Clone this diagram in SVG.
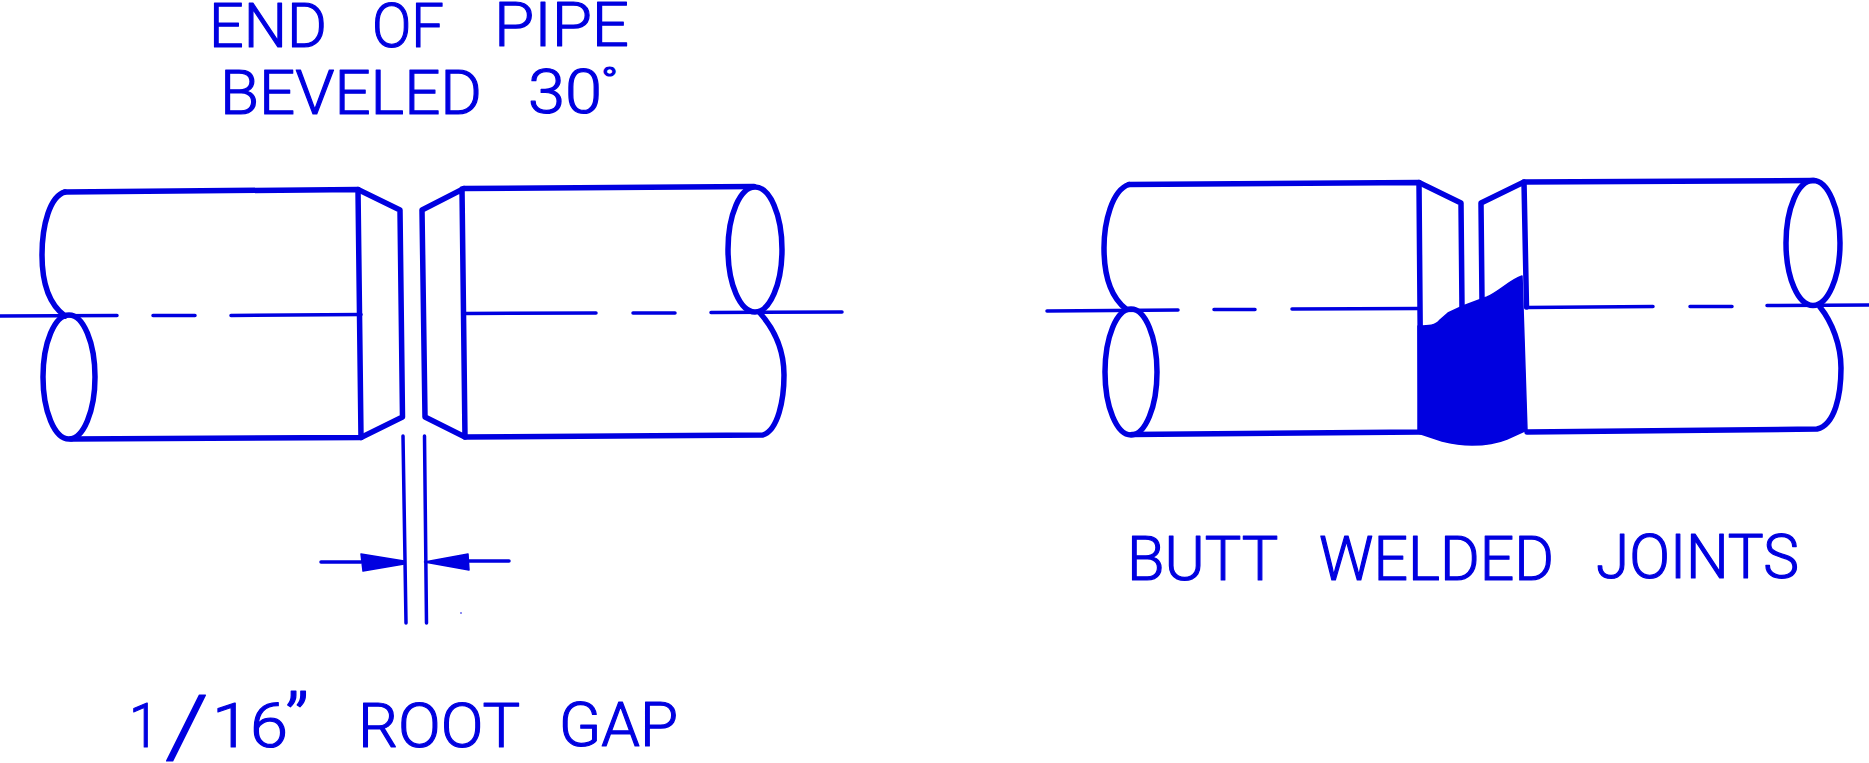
<svg xmlns="http://www.w3.org/2000/svg" width="1869" height="763" viewBox="0 0 1869 763">
<style>
.bg{fill:#fff}
.o{fill:none;stroke:#0000e0;stroke-width:5.500;stroke-linejoin:round;stroke-linecap:round}
.c{fill:none;stroke:#0000e0;stroke-width:3.500;stroke-linecap:round}
.f{fill:#0000e0;stroke:#0000e0;stroke-width:1.500;stroke-linejoin:round}
text{font-family:"Roboto","Liberation Sans",sans-serif;font-weight:300;font-size:62px;fill:#0000e0;stroke:#0000e0;stroke-width:1.200;stroke-linejoin:round}
</style>
<rect class="bg" width="1869" height="763"/>
<g id="left-pipe-a">
<path class="o" d="M65,192 C50,196 42,225 42,255 C42,285 50,305 65,316"/>
<ellipse class="o" cx="69" cy="377" rx="26" ry="62"/>
<path class="o" d="M65,192 L358,189.500 L361,437.500 L71,439"/>
<path class="o" d="M358,189.500 L400,210 L402.500,417 L361,437.500"/>
</g>
<g id="left-pipe-b">
<path class="o" d="M464,188.500 L754,186.500"/>
<ellipse class="o" cx="755" cy="249.500" rx="27" ry="62.500"/>
<path class="o" d="M760,313 C775,330 784,350 784,375 C784,400 778,430 763,435 L465,437"/>
<path class="o" d="M462,189 L465,437 L425,417 L422,210 L464,188.500"/>
</g>
<g id="right-pipe-a">
<path class="o" d="M1129,184.500 C1112,190 1104,222 1104,248 C1104,278 1112,298 1126,309"/>
<ellipse class="o" cx="1131" cy="372" rx="26" ry="63"/>
<path class="o" d="M1129,184.500 L1419,182.500 L1421,432 L1132,434.500"/>
<path class="o" d="M1419,182.500 L1461,203 L1462,307"/>
</g>
<g id="right-pipe-b">
<path class="o" d="M1524,182 L1814,180.500"/>
<ellipse class="o" cx="1813" cy="243" rx="27" ry="62.500"/>
<path class="o" d="M1820,307 C1832,322 1841,345 1841,368 C1841,395 1835,425 1817,429 L1527,432"/>
<path class="o" d="M1482,300 L1481,203 L1524,182 L1526.500,307"/>
</g>
<g id="weld">
<path class="f" d="M1418,326 C1428,326 1436,326 1440,320 L1448,313 L1463,306 L1487,297 C1500,291 1510,280 1522,276 L1527,430 L1507,439 C1495,444 1482,445 1472,445 C1460,445 1450,443 1442,441 L1418,433 Z"/>
</g>
<g id="connectors">
<path class="c" d="M0,316 L117,315.500 M153,315.500 H195 M231,315.500 L361,314.500"/>
<path class="c" d="M465,313.500 L596,313 M633,313 H675 M711,312.500 L842,312"/>
<path class="c" d="M1047,311 L1178,310 M1214,309.500 H1255 M1292,309 L1419,308.500"/>
<path class="c" d="M1527,307.500 L1653,306.500 M1690,306.500 H1732 M1767,305.500 L1869,305"/>
<path class="c" d="M403,436 L406,623 M424.500,436 L426.500,623"/>
<path class="c" d="M321,562 H361 M469,561 H509"/>
<path class="f" d="M361,554 L404,561 V564 L363,571 Z"/>
<path class="f" d="M424.500,562 L468,554 L469,570 Z"/>
<circle cx="461" cy="613" r="0.8" fill="#0000e0"/>
</g>
<g id="labels">
<text id="label-bevel-1"><tspan x="209" y="46.500" textLength="118" lengthAdjust="spacingAndGlyphs">END</tspan> <tspan x="372" y="46.500" textLength="72" lengthAdjust="spacingAndGlyphs">OF</tspan> <tspan x="494" y="46" textLength="135" lengthAdjust="spacingAndGlyphs">PIPE</tspan></text>
<text id="label-bevel-2"><tspan x="220" y="114" textLength="262" lengthAdjust="spacingAndGlyphs">BEVELED</tspan> <tspan x="528" y="113" textLength="74" lengthAdjust="spacingAndGlyphs">30</tspan><tspan x="601" y="94" font-size="36" textLength="17" lengthAdjust="spacingAndGlyphs">°</tspan></text>
<text id="label-gap"><tspan x="129" y="747" textLength="30" lengthAdjust="spacingAndGlyphs">1</tspan><tspan x="165" y="756" font-size="85" textLength="44" lengthAdjust="spacingAndGlyphs">/</tspan><tspan x="212" y="747" textLength="76" lengthAdjust="spacingAndGlyphs">16</tspan><tspan x="285" y="747" font-size="75" textLength="24" lengthAdjust="spacingAndGlyphs">”</tspan> <tspan x="358" y="747" textLength="161" lengthAdjust="spacingAndGlyphs">ROOT</tspan> <tspan x="559" y="746" textLength="119" lengthAdjust="spacingAndGlyphs">GAP</tspan></text>
<text id="label-butt"><tspan x="1127" y="580" textLength="150" lengthAdjust="spacingAndGlyphs">BUTT</tspan> <tspan x="1319" y="579.500" textLength="235" lengthAdjust="spacingAndGlyphs">WELDED</tspan> <tspan x="1596" y="578" textLength="203" lengthAdjust="spacingAndGlyphs">JOINTS</tspan></text>
</g>
</svg>
